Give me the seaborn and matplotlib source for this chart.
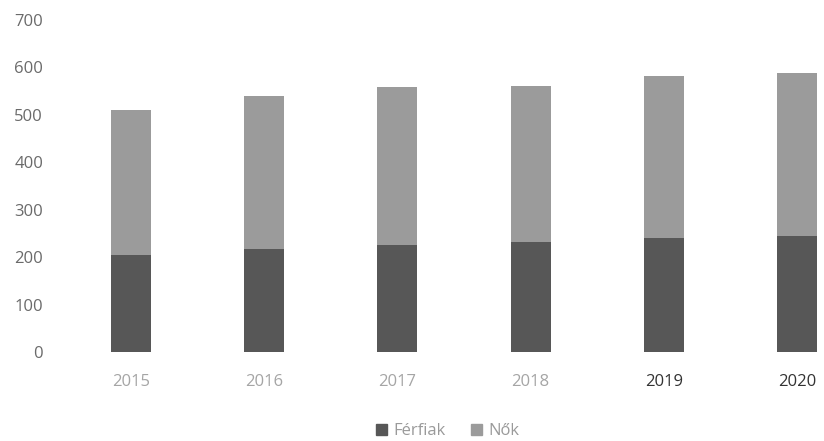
import matplotlib
matplotlib.use("Agg")
import matplotlib.pyplot as plt
import seaborn as sns
import numpy as np
from matplotlib.patches import Patch

# adatok
years = ["2015", "2016", "2017", "2018", "2019", "2020"]
ferfiak = [205, 217, 226, 231, 241, 245]
nok = [305, 322, 332, 329, 341, 344]

sns.set_theme(style="white")
plt.rcParams["font.family"] = ["Open Sans", "DejaVu Sans"]

dark = "#575757"
light = "#9b9b9b"
totals = np.array(ferfiak) + np.array(nok)

fig = plt.figure(figsize=(8.24, 4.41), dpi=100)
ax = fig.add_axes([64 / 824, 89 / 441, 1 - 64 / 824, 332 / 441])

# Nők a Férfiak tetején (teljes magasság először, majd a férfiak rá)
sns.barplot(x=years, y=totals, color=light, width=0.3, saturation=1, linewidth=0, ax=ax)
sns.barplot(x=years, y=ferfiak, color=dark, width=0.3, saturation=1, linewidth=0, ax=ax)

ax.set_ylim(0, 700)
ax.set_xlim(-0.5, 5.2)
ax.set_yticks(range(0, 701, 100))
for s in ax.spines.values():
    s.set_visible(False)
ax.tick_params(axis="both", length=0, labelsize=12, colors="#6a6a6a")
ax.tick_params(axis="y", pad=15)
ax.tick_params(axis="x", pad=16)
for lbl in ax.get_xticklabels():
    if lbl.get_text() in ("2019", "2020"):
        lbl.set_color("#333333")
    else:
        lbl.set_color("#a5a5a5")

handles = [Patch(color=dark, label="Férfiak"), Patch(color=light, label="Nők")]
fig.legend(handles=handles, loc="lower center", bbox_to_anchor=(0.543, -0.03), ncol=2,
           frameon=False, fontsize=12, handlelength=0.7, handleheight=0.7,
           handletextpad=0.35, columnspacing=1.5, labelcolor="#9a9a9a")

fig.savefig("out.png", dpi=100)
